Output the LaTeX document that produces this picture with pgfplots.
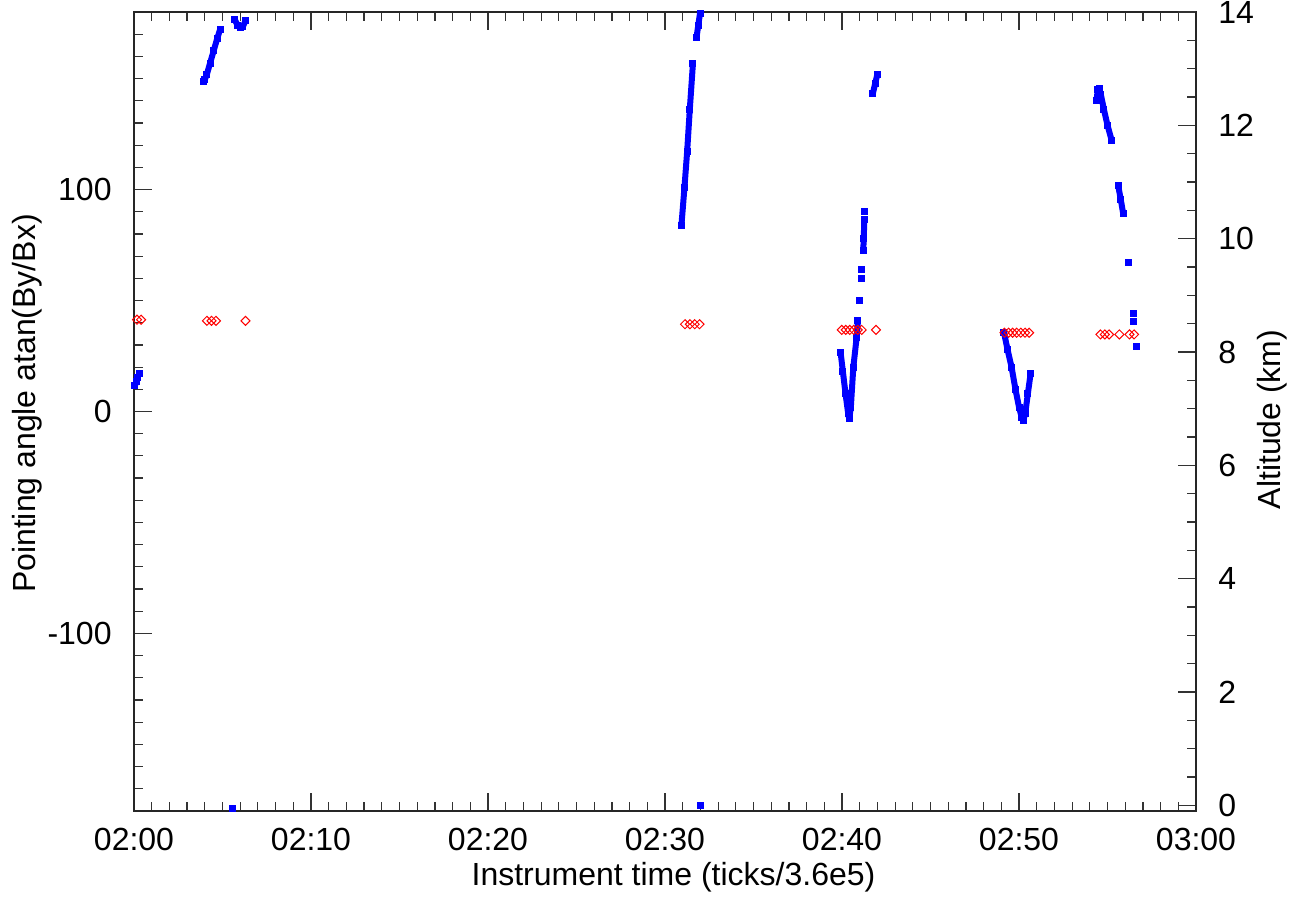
\documentclass[border=0pt]{standalone}
\usepackage{pgfplots}
\pgfplotsset{compat=1.18}
\usepackage{fontspec}
\setmainfont{Liberation Sans}
\newcommand{\lblfont}{\fontsize{16pt}{19pt}\selectfont}
\pgfplotsset{
  common/.style={
    at={(0,0)}, anchor=south west, scale only axis,
    width=531pt, height=399.5pt,
    xmin=0, xmax=60,
    tick align=inside,
    major tick length=9pt, minor tick length=4.5pt,
    every tick/.style={black!80, line width=0.6pt},
    axis line style={black!85, line width=0.9pt},
    tick label style={font=\lblfont},
  }
}
\begin{document}
\begin{tikzpicture}
\useasboundingbox (-67pt,-44.5pt) rectangle (583.5pt,405.5pt);
\begin{axis}[common,
  ymin=-180, ymax=180,
  xtick={0,10,20,30,40,50,60},
  xticklabels={02:00,02:10,02:20,02:30,02:40,02:50,03:00},
  minor x tick num=9,
  xtick pos=both, xticklabel pos=bottom,
  ytick={-100,0,100}, yticklabels={-100,0,100},
  minor ytick={-170,-160,...,170},
  ytick pos=left,
  xticklabel style={anchor=north, inner sep=0pt, yshift=-8.5pt},
  yticklabel style={anchor=east, inner sep=0pt, xshift=-11pt},
  xlabel={Instrument time (ticks/3.6e5)},
  ylabel={Pointing angle atan(By/Bx)},
  every axis x label/.style={at={(axis description cs:0.508,-0.0826)}, anchor=center, font=\lblfont},
  every axis y label/.style={at={(axis description cs:-0.1008,0.51)}, rotate=90, anchor=center, font=\lblfont},
  blueline/.style={color=blue, line width=3pt, line join=round, mark=square*, mark size=1.5pt, mark options={solid, line width=0pt, fill=blue}},
  bluedot/.style={color=blue, only marks, mark=square*, mark size=1.5pt, mark options={line width=0pt, fill=blue}},
]
\addplot[blueline] coordinates {(0.05,11.5) (0.12,13.5) (0.2,15.5) (0.3,17)};
\addplot[blueline] coordinates {(3.9,148.5) (4.0,149.5) (4.12,152) (4.3,157) (4.5,162.5) (4.7,168) (4.86,172)};
\addplot[blueline] coordinates {(5.7,176.5) (5.85,174) (6.0,173) (6.15,173.5) (6.3,176)};
\addplot[bluedot] coordinates {(5.55,-179)};
\addplot[blueline] coordinates {(30.93,84) (31.1,101) (31.25,117) (31.4,136) (31.58,157)};
\addplot[blueline] coordinates {(31.78,168.5) (31.88,174) (31.98,179.5)};
\addplot[bluedot] coordinates {(31.98,-177.5)};
\addplot[blueline] coordinates {(39.92,26.7) (40.05,18) (40.2,8) (40.35,-1) (40.41,-3.3) (40.5,2) (40.64,20) (40.83,33.5) (40.9,41)};
\addplot[bluedot] coordinates {(41.0,50) (41.1,60) (41.1,64) (41.28,90)};
\addplot[blueline] coordinates {(41.2,72.5) (41.23,78) (41.26,86.5)};
\addplot[blueline] coordinates {(41.75,143.5) (41.88,148) (42.0,152)};
\addplot[blueline] coordinates {(49.15,35.7) (49.35,28) (49.58,20) (49.8,10) (50.0,2) (50.15,-2.5) (50.24,-4) (50.35,-1) (50.5,8) (50.66,17.3)};
\addplot[blueline] coordinates {(54.38,140) (54.45,145) (54.52,145.5) (54.62,143) (54.8,136) (55.0,129) (55.24,122)};
\addplot[blueline] coordinates {(55.6,102) (55.75,95.5) (55.89,89)};
\addplot[bluedot] coordinates {(56.21,67.3) (56.46,44) (56.46,40.5) (56.64,29.3)};
\end{axis}
\begin{axis}[common,
  ymin=-0.1, ymax=14,
  axis x line=none,
  axis y line*=right,
  ytick={0,2,...,14}, yticklabels={0,2,4,6,8,10,12,14},
  minor y tick num=3,
  yticklabel style={anchor=west, inner sep=0pt, xshift=11pt},
  ylabel={Altitude (km)},
  every axis y label/.style={at={(axis description cs:1.0716,0.49)}, rotate=90, anchor=center, font=\lblfont},
]
\addplot[red, only marks, mark=square, mark size=1.6pt, mark options={rotate=45, line width=0.5pt}] coordinates {
(0.17,8.57) (0.4,8.57)
(4.12,8.55) (4.38,8.55) (4.63,8.55) (6.3,8.55)
(31.13,8.49) (31.41,8.49) (31.68,8.49) (31.95,8.49)
(39.99,8.39) (40.21,8.39) (40.44,8.39) (40.66,8.39) (40.89,8.39) (41.11,8.39) (41.92,8.39)
(49.18,8.34) (49.41,8.34) (49.64,8.34) (49.87,8.34) (50.1,8.34) (50.34,8.34) (50.57,8.34)
(54.6,8.31) (54.85,8.31) (55.09,8.31) (55.67,8.31) (56.24,8.31) (56.5,8.31)
};
\end{axis}
\end{tikzpicture}
\end{document}
